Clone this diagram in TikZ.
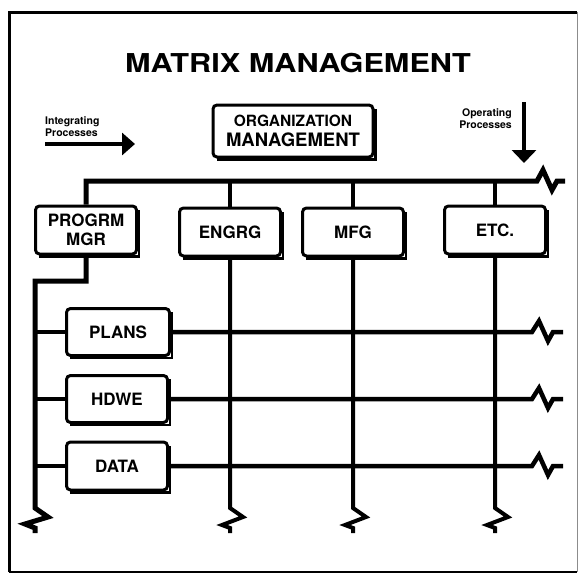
\documentclass[tikz,border=0pt]{standalone}
\usepackage{fontspec}
\setmainfont{TeX Gyre Heros}
\newfontfamily\widehead[FakeStretch=1.18]{TeX Gyre Heros}
\usepackage{tikz}
\usetikzlibrary{positioning}
\usetikzlibrary{arrows.meta}
\usetikzlibrary{calc}

\begin{document}
\begin{tikzpicture}[x=1pt,y=-1pt,
  unit/.style={draw,line width=3pt,rounded corners=4pt,minimum width=101pt,minimum height=48pt,
    align=center,inner sep=0pt,font=\fontsize{17}{19}\selectfont\bfseries},
  edge/.style={line width=2.2pt},
  bus/.style={line width=5pt},
  row/.style={line width=4.5pt},
  col/.style={line width=4pt},
  tag/.style={align=left,inner sep=0pt,font=\fontsize{10.5}{12}\selectfont\bfseries}]
\useasboundingbox (0,0) rectangle (581,574);
% frame
\draw[line width=3pt] (9,572) -- (9,12) -- (577,12);
\draw[line width=1.5pt] (9,572) -- (577,572);
\draw[line width=1pt,black!45] (577,12) -- (577,572);
\node[font=\widehead\fontsize{26}{28}\selectfont\bfseries] (title) at (298,63) {MATRIX MANAGEMENT};
\node[tag,anchor=west] (integ) at (45,127) {Integrating\\Processes};
\coordinate (integs) at (45,144);
\coordinate (intege) at (135,144);
\draw[line width=4pt,-{Triangle[length=13pt,width=22pt]}] (integs) -- (intege);
\node[tag,align=right,anchor=east] (oper) at (512,119) {Operating\\Processes};
\coordinate (opers) at (524,102);
\coordinate (opere) at (524,163);
\draw[line width=4pt,-{Triangle[length=13pt,width=24pt]}] (opers) -- (opere);
\node[unit,minimum width=160pt,minimum height=52pt,font=\fontsize{15.5}{20}\selectfont\bfseries] (org) at (293,131)
  {ORGANIZATION\\{\fontsize{18.5}{20}\selectfont MANAGEMENT}};
% functions
\node[unit] (mgr) at (86,230) {PROGRM\\MGR};
\node[unit] (engrg) at (230,232) {ENGRG};
\node[unit] (mfg) at (353,232) {MFG};
\node[unit] (etc) at (495,230) {ETC.};
% projects
\node[unit,minimum width=103pt,minimum height=47pt] (plans) at (118,332) {PLANS};
\node[unit,minimum width=101pt,minimum height=47pt] (hdwe) at (117,399) {HDWE};
\node[unit,minimum width=101pt,minimum height=48pt] (data) at (117,466) {DATA};
\foreach \n in {org,mgr,engrg,mfg,etc,plans,hdwe,data}
  \draw[edge] ([shift={(5pt,-1pt)}]\n.south west) -- ([shift={(1pt,-1pt)}]\n.south east)
    -- ([shift={(1pt,-5pt)}]\n.north east);
\coordinate (bus) at (86,181);
\coordinate (spine) at (35,281);
\coordinate (zztop) at (537,181);
\coordinate (zzright) at (532,0);
\coordinate (zzdown) at (0,508);
\draw[bus] (mgr.north) -- (bus) -- (zztop) -- ++(6,-11) -- ++(9,20) -- ++(5,-9) -- ++(8,0);
\draw[bus] (mgr.south) |- (spine) -- (spine |- zzdown) -- ++(13,9) -- ++(-23,7) -- ++(10,4) -- ++(0,5);
\foreach \n in {engrg,mfg,etc}{
  \draw[col] (\n.north) -- (\n.north |- bus);
  \draw[col] (\n.south) -- (\n.south |- zzdown) -- ++(13,9) -- ++(-21,8) -- ++(8,3) -- ++(0,5);
}
\foreach \n in {plans,hdwe,data}{
  \draw[row] (spine |- \n) -- (\n.west);
  \draw[row] (\n.east) -- (\n -| zzright) -- ++(7,-11) -- ++(9,20) -- ++(5,-9) -- ++(10,0);
}
\end{tikzpicture}
\end{document}
